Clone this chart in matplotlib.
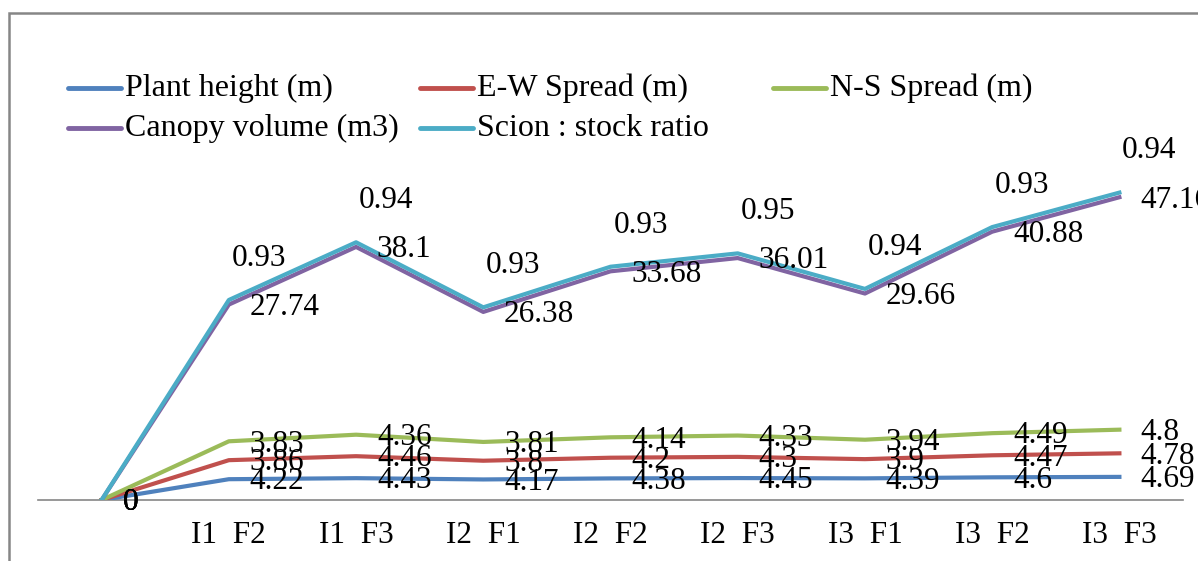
import numpy as np
import matplotlib
matplotlib.use('Agg')
import matplotlib.pyplot as plt
from matplotlib.lines import Line2D
from matplotlib.patches import Rectangle

plt.rcParams['font.family'] = ['Liberation Serif', 'DejaVu Serif']

# categories (first one is the empty start point)
categories = ['', 'I1  F2', 'I1  F3', 'I2  F1', 'I2  F2', 'I2  F3', 'I3  F1', 'I3  F2', 'I3  F3']

plant_height = [0, 4.22, 4.43, 4.17, 4.38, 4.45, 4.39, 4.6, 4.69]
ew_spread = [0, 3.86, 4.46, 3.8, 4.2, 4.3, 3.9, 4.47, 4.78]
ns_spread = [0, 3.83, 4.36, 3.81, 4.14, 4.33, 3.94, 4.49, 4.8]
canopy_volume = [0, 27.74, 38.1, 26.38, 33.68, 36.01, 29.66, 40.88, 47.16]
scion_stock = [0, 0.93, 0.94, 0.93, 0.93, 0.95, 0.94, 0.93, 0.94]

names = ['Plant height (m)', 'E-W Spread (m)', 'N-S Spread (m)',
         'Canopy volume (m3)', 'Scion : stock ratio']
colors = ['#4F81BD', '#C0504D', '#9BBB59', '#8064A2', '#4BACC6']

FS = 22.5

W, H = 1198, 561
fig = plt.figure(figsize=(W / 100, H / 100), dpi=100)

# plot area in pixels: x 38..1183, y 155..500
ax = fig.add_axes([38 / W, (H - 500) / H, (1183 - 38) / W, (500 - 155) / H])

series = [plant_height, ew_spread, ns_spread, canopy_volume, scion_stock]
x = np.arange(len(categories))
stacked = np.cumsum(np.array(series, dtype=float), axis=0)  # stacked line chart

for k in range(len(series)):
    ax.plot(x, stacked[k], color=colors[k], lw=3, solid_joinstyle='round', zorder=3 + k)

# data labels
for k in range(len(series)):
    for i in range(len(x)):
        val = series[k][i]
        if k == 4:
            if val == 0:
                continue
            ax.annotate(f'{val:g}', (x[i], stacked[k][i]), xytext=(2, 30),
                        textcoords='offset points', ha='left', va='center',
                        fontsize=FS, annotation_clip=False, zorder=10)
        else:
            ax.annotate(f'{val:g}', (x[i], stacked[k][i]), xytext=(15, -2),
                        textcoords='offset points', ha='left', va='center',
                        fontsize=FS, annotation_clip=False, zorder=10)

ax.set_xlim(-0.5, len(categories) - 0.5)
ax.set_ylim(0, 70)
ax.set_xticks(x)
ax.set_xticklabels(categories, fontsize=FS)
ax.tick_params(axis='x', length=0, pad=15)
ax.set_yticks([])
for s in ['top', 'right', 'left']:
    ax.spines[s].set_visible(False)
ax.spines['bottom'].set_color('#868686')
ax.spines['bottom'].set_linewidth(1.2)
ax.patch.set_alpha(0)

# legend drawn in figure pixels
leg_rows = [88, 128]
leg_cols = [68, 420, 773]
slots = [(0, 0), (0, 1), (0, 2), (1, 0), (1, 1)]
for k, (r, c) in enumerate(slots):
    yy = (H - leg_rows[r]) / H
    fig.add_artist(Line2D([leg_cols[c] / W, (leg_cols[c] + 53) / W], [yy, yy],
                          color=colors[k], lw=3.5, solid_capstyle='round'))
    fig.text((leg_cols[c] + 57) / W, yy, names[k], fontsize=FS + 0.5, va='center', ha='left')

# chart border
fig.add_artist(Rectangle((9 / W, -0.1), 1.2, (H - 13) / H + 0.1, transform=fig.transFigure,
                         fill=False, ec='#868686', lw=1.8))

fig.savefig('out.png', dpi=100)
